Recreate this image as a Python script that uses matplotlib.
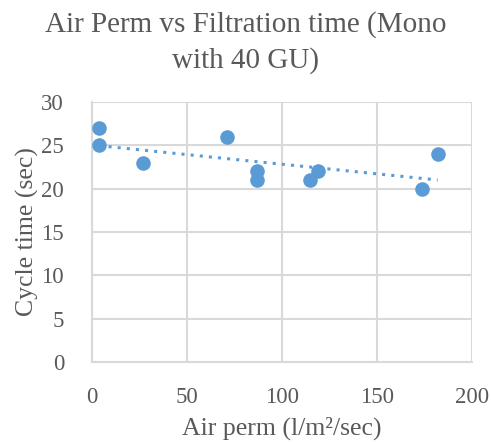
import numpy as np
import matplotlib
matplotlib.use("Agg")
import matplotlib.pyplot as plt

# values
air_perm = [4, 4, 27, 71, 87, 87, 115, 119, 174, 182]
cycle_time = [27, 25, 23, 26, 22, 21, 21, 22, 20, 24]
x_ticks = [0, 50, 100, 150, 200]
y_ticks = [0, 5, 10, 15, 20, 25, 30]

BLUE = "#5B9BD5"
TEXT = "#595959"
GRID = "#D9D9D9"

plt.rcParams["font.family"] = ["Liberation Serif", "DejaVu Serif"]

fig = plt.figure(figsize=(4.91, 4.43), dpi=100)
ax = fig.add_axes([0.187, 0.183, 0.774, 0.587])

ax.scatter(air_perm, cycle_time, s=110, color=BLUE, zorder=3, linewidths=0)

# linear trendline like Excel's
slope, intercept = np.polyfit(air_perm, cycle_time, 1)
xs = np.array([min(air_perm), max(air_perm)])
ax.plot(xs, slope * xs + intercept, linestyle=(0, (1, 2)), color=BLUE,
        linewidth=2.2, zorder=2)

ax.set_xlim(0, 200)
ax.set_ylim(0, 30)
ax.set_xticks(x_ticks)
ax.set_yticks(y_ticks)
ax.grid(True, color=GRID, linewidth=1.5, zorder=0)
ax.set_axisbelow(True)
for side in ["top", "right"]:
    ax.spines[side].set_visible(False)
for side in ["left", "bottom"]:
    ax.spines[side].set_color(GRID)
    ax.spines[side].set_linewidth(1.5)
ax.tick_params(axis="y", length=0, labelsize=16.5, labelcolor=TEXT, pad=20)
ax.tick_params(axis="x", length=0, labelsize=16.5, labelcolor=TEXT, pad=18)

ax.set_xlabel("Air perm (l/m²/sec)", fontsize=18.5, color=TEXT, labelpad=6)
ax.set_ylabel("Cycle time (sec)", fontsize=18.5, color=TEXT, labelpad=2)
fig.suptitle("Air Perm vs Filtration time (Mono\nwith 40 GU)", fontsize=21,
             color=TEXT, y=0.975, linespacing=1.45)

fig.savefig("out.png", dpi=100)
